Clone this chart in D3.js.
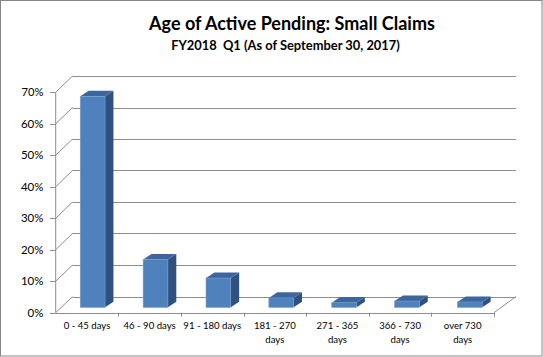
<!DOCTYPE html>
<html><head><meta charset="utf-8">
<script src="https://cdn.jsdelivr.net/npm/d3@7/dist/d3.min.js"></script>
<style>
html,body{margin:0;padding:0;background:#fff;}
svg{display:block;}
text{white-space:pre;}
</style></head>
<body>
<svg id="chart" width="543" height="357"></svg>
<script>
const title = "Age of Active Pending: Small Claims";
const subtitle = "FY2018  Q1 (As of September 30, 2017)";
const categories = ["0 - 45 days","46 - 90 days","91 - 180 days","181 - 270 days","271 - 365 days","366 - 730 days","over 730 days"];
const categoryLines = [["0 - 45 days"],["46 - 90 days"],["91 - 180 days"],["181 - 270","days"],["271 - 365","days"],["366 - 730","days"],["over 730","days"]];
const values = [0.670, 0.152, 0.093, 0.030, 0.015, 0.020, 0.017];
const yTicks = [0,0.1,0.2,0.3,0.4,0.5,0.6,0.7];

const svg = d3.select("#chart");
const W = 543, H = 357;
const FONT = "Lato, 'Open Sans', sans-serif";

function fit(sel, target){
  const n = sel.node();
  const w = n.getComputedTextLength();
  const fs = parseFloat(sel.attr("font-size"));
  sel.attr("font-size", fs*target/w);
}

// outer border
svg.append("rect").attr("x",0.5).attr("y",0.5).attr("width",W-1.5).attr("height",H-1.5)
  .attr("fill","#fff").attr("stroke","#868686").attr("stroke-width",1);

// Titles
const t1 = svg.append("text").attr("x",292).attr("y",30).attr("text-anchor","middle")
  .attr("font-family",FONT).attr("font-weight","bold").attr("font-size",19).attr("fill","#000")
  .text(title);
fit(t1, 286);
const t2 = svg.append("text").attr("x",285.5).attr("y",49.5).attr("text-anchor","middle")
  .attr("font-family",FONT).attr("font-weight","bold").attr("font-size",14).attr("fill","#000")
  .text(subtitle);
fit(t2, 229);

// Scales: front plane and back wall
const x = d3.scaleBand().domain(categories).range([55.7, 494]).paddingInner(0).paddingOuter(0);
const yFront = d3.scaleLinear().domain([0,0.7]).range([312.7, 92.3]);
const yBack = d3.scaleLinear().domain([0,0.7]).range([296.5, 76]);
const xBack = d3.scaleLinear().domain([55.7, 494]).range([72.5, 516]);

const grid = "#8c8c8c";
const g = svg.append("g");

// back wall gridlines + left wall diagonals
yTicks.forEach(t=>{
  g.append("line").attr("x1",xBack(55.7)).attr("x2",xBack(494))
    .attr("y1",Math.round(yBack(t))+0.5).attr("y2",Math.round(yBack(t))+0.5)
    .attr("stroke",grid).attr("stroke-width",1);
  g.append("line").attr("x1",55.7).attr("y1",yFront(t)).attr("x2",xBack(55.7)).attr("y2",yBack(t))
    .attr("stroke",grid).attr("stroke-width",1);
  g.append("line").attr("x1",50).attr("x2",55.7).attr("y1",Math.round(yFront(t))+0.5).attr("y2",Math.round(yFront(t))+0.5)
    .attr("stroke",grid);
  const lab = g.append("text").attr("x",43.5).attr("y",yFront(t)).attr("dy","0.36em").attr("text-anchor","end")
    .attr("font-family",FONT).attr("font-size",11.5).attr("fill","#000")
    .text(d3.format(".0%")(t));
  if (t===0.7) fit(lab, 22);
});
// front vertical axis
g.append("line").attr("x1",55.7).attr("x2",55.7).attr("y1",yFront(0)).attr("y2",yFront(0.7)).attr("stroke",grid);
// floor front edge and right diagonal
g.append("line").attr("x1",55.7).attr("x2",494).attr("y1",Math.round(yFront(0))+0.5).attr("y2",Math.round(yFront(0))+0.5).attr("stroke",grid);
g.append("line").attr("x1",494).attr("y1",yFront(0)).attr("x2",xBack(494)).attr("y2",yBack(0)).attr("stroke",grid);
// category ticks
categories.forEach((c,i)=>{
  const xx = Math.round(x(c)+x.bandwidth())+0.5;
  g.append("line").attr("x1",xx).attr("x2",xx).attr("y1",yFront(0)).attr("y2",yFront(0)+4).attr("stroke",grid);
});

// Bars
const zFront = 0.33;
const barW = x.bandwidth()*0.395;
const bdx = 8.4, bdy = -5.6;
const cFront = "#4f81bd", cTop = "#3e669e", cSide = "#30507e";
const bars = svg.append("g");
categories.forEach((c,i)=>{
  const v = values[i];
  const cx = x(c) + x.bandwidth()/2;
  const fx = cx + (xBack(cx)-cx)*zFront;
  const y0 = yFront(0) + (yBack(0)-yFront(0))*zFront;
  const y1 = yFront(v) + (yBack(v)-yFront(v))*zFront;
  const xl = fx - barW/2, xr = fx + barW/2;
  bars.append("path").attr("d",`M${xr},${y0}L${xr+bdx},${y0+bdy}L${xr+bdx},${y1+bdy}L${xr},${y1}Z`).attr("fill",cSide);
  bars.append("path").attr("d",`M${xl},${y1}L${xl+bdx},${y1+bdy}L${xr+bdx},${y1+bdy}L${xr},${y1}Z`).attr("fill",cTop);
  bars.append("rect").attr("x",xl).attr("y",y1).attr("width",barW).attr("height",y0-y1)
    .attr("fill",cFront).attr("stroke","#6f9bd3").attr("stroke-width",0.6);
});

// category labels
let catFs = 10.5;
{
  const probe = svg.append("text").attr("font-family",FONT).attr("font-size",10.5).text(categoryLines[0][0]);
  catFs = 10.5*46.7/probe.node().getComputedTextLength();
  probe.remove();
}
categoryLines.forEach((lines,i)=>{
  const cx = x(categories[i]) + x.bandwidth()/2;
  const t = svg.append("text").attr("text-anchor","middle").attr("font-family",FONT)
    .attr("font-size",catFs).attr("fill","#000");
  lines.forEach((ln,j)=>{
    t.append("tspan").attr("x",cx).attr("y",329.3 + j*13.3).text(ln);
  });
});
</script>
</body></html>
